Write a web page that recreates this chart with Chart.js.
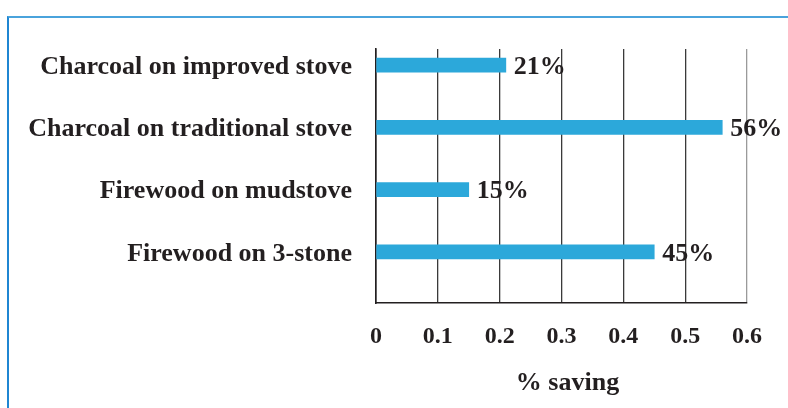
<!DOCTYPE html>
<html>
<head>
<meta charset="utf-8">
<script src="https://cdn.jsdelivr.net/npm/chart.js@4.4.1/dist/chart.umd.min.js"></script>
<style>
  html, body { margin: 0; padding: 0; background: #ffffff; }
  #wrap { position: relative; width: 788px; height: 408px; overflow: hidden; }
  #frame {
    position: absolute; left: 7px; top: 16px; width: 800px; height: 420px;
    border-top: 2px solid #4aa3dc; border-left: 2px solid #1f86d2;
    box-sizing: border-box;
  }
  #c { position: absolute; left: 0; top: 0; }
</style>
</head>
<body>
<div id="wrap">
  <div id="frame"></div>
  <canvas id="c" width="788" height="408"></canvas>
</div>
<script>
// Fuel saving per stove / fuel combination
const categories = [
  'Charcoal on improved stove',
  'Charcoal on traditional stove',
  'Firewood on mudstove',
  'Firewood on 3-stone'
];
const savings = [0.21, 0.56, 0.15, 0.45];
const valueLabels = ['21%', '56%', '15%', '45%'];
const xTicks = [0, 0.1, 0.2, 0.3, 0.4, 0.5, 0.6];
const xTitle = '% saving';

const FONT = 'Liberation Serif, "Times New Roman", serif';
const INK = '#231f20';

// Percentage text past the end of each bar, plus the x-axis caption
const annotationPlugin = {
  id: 'annotations',
  afterDatasetsDraw(chart) {
    const ctx = chart.ctx;
    const meta = chart.getDatasetMeta(0);
    const area = chart.chartArea;
    ctx.save();
    ctx.font = 'bold 26px ' + FONT;
    ctx.fillStyle = INK;
    ctx.textAlign = 'left';
    ctx.textBaseline = 'middle';
    meta.data.forEach((bar, i) => {
      ctx.fillText(valueLabels[i], bar.x + 8, bar.y + 2);
    });
    ctx.textAlign = 'center';
    ctx.fillText(xTitle, (area.left + area.right) / 2 + 6, area.bottom + 80);
    ctx.restore();
  }
};

new Chart(document.getElementById('c'), {
  type: 'bar',
  data: {
    datasets: [{
      data: savings.map((v, i) => ({ x: v, y: i })),
      backgroundColor: '#2ca8da',
      borderWidth: 0,
      barThickness: 14
    }]
  },
  options: {
    indexAxis: 'y',
    responsive: false,
    animation: false,
    layout: { padding: { top: 49, right: 41, left: 0, bottom: 0 } },
    plugins: { legend: { display: false }, tooltip: { enabled: false } },
    scales: {
      x: {
        type: 'linear',
        min: 0,
        max: 0.6,
        afterBuildTicks(scale) { scale.ticks = xTicks.map(v => ({ value: v })); },
        afterFit(scale) { scale.height = 105; },
        grid: {
          drawTicks: false,
          lineWidth: 1.3,
          color: ctx => ctx.index === xTicks.length - 1 ? '#9a9a9a' : '#3a3a3a'
        },
        border: { display: true, color: INK, width: 1.6 },
        ticks: {
          padding: 19,
          color: INK,
          font: { family: FONT, size: 24, weight: 'bold' },
          callback: v => String(v)
        }
      },
      y: {
        type: 'linear',
        reverse: true,
        offset: false,
        min: -0.26,
        max: 3.82,
        afterBuildTicks(scale) { scale.ticks = categories.map((_, i) => ({ value: i })); },
        afterFit(scale) { scale.width = 376; },
        grid: { display: false },
        border: { display: true, color: INK, width: 1.6 },
        ticks: {
          padding: 16,
          labelOffset: 2,
          color: INK,
          font: { family: FONT, size: 26, weight: 'bold' },
          callback: v => categories[v] ?? ''
        }
      }
    }
  },
  plugins: [annotationPlugin]
});
</script>
</body>
</html>
